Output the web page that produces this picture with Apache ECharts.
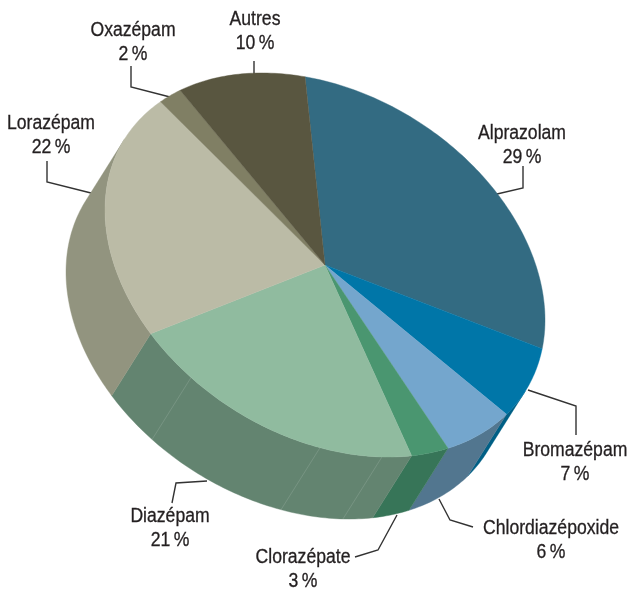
<!DOCTYPE html>
<html><head><meta charset="utf-8">
<style>html,body{margin:0;padding:0;background:#fff}#c{width:630px;height:592px}</style>
<script src="https://cdn.jsdelivr.net/npm/echarts@6/dist/echarts.min.js"></script>
</head><body><div id="c"></div>
<script>
// Data
const categories = ['Alprazolam','Bromazépam','Chlordiazépoxide','Clorazépate','Diazépam','Lorazépam','Oxazépam','Autres'];
const shares = [29,7,6,3,21,22,2,10];

// Styles
const topColors  = ['#336b82','#0076a8','#74a6cd','#4a9670','#90bb9f','#bbbba6','#807f64','#595640'];
const wallColors = ['#2a5a6e','#005f85','#52768f','#377558','#638470','#92947f','#6b6a52','#4a4834'];
const labelPos = [[522,121],[575,438],[551,516],[303,545],[170,504],[51,111],[133,18],[255,7]];
const leaders = [
  [[497,194],[523,188],[523,166]],
  [[528,390],[576,406],[576,435]],
  [[439,499],[450,520],[473,527]],
  [[397,515],[378,550],[355,557]],
  [[207,481],[176,483],[172,503]],
  [[91,193],[47,182],[47,161]],
  [[170,97],[131,87],[131,66]],
  [[254,74],[254,61]]
];
const wallSeamAngles = [75,91.3,127.5];
// Tilted pie geometry
const cx=325, cy=265, ax=220, bx=55, by=184, dx=-39, dy=62, startDeg=-95.2;
// Part of the rim whose side wall faces the viewer (tangents parallel to the extrusion)
const wallFrom=Math.atan2(-dx*by, dy*ax+(-dx)*bx)*180/Math.PI, wallTo=wallFrom+180;

function rim(deg, lower){
  const r=deg*Math.PI/180, c=Math.cos(r), s=Math.sin(r);
  return [cx+ax*c+(lower?dx:0), cy+bx*c+by*s+(lower?dy:0)];
}
function arc(a,b,lower){
  const pts=[], n=Math.max(2,Math.ceil(Math.abs(b-a)));
  for(let k=0;k<=n;k++) pts.push(rim(a+(b-a)*k/n,lower));
  return pts;
}
const total=shares.reduce((p,v)=>p+v,0);
function range(i){
  let sum=0; for(let k=0;k<i;k++) sum+=shares[k];
  return [startDeg+sum/total*360, startDeg+(sum+shares[i])/total*360];
}
const seriesData=shares.map((v,i)=>({name:categories[i],value:v}));

const chart=echarts.init(document.getElementById('c'),null,{renderer:'canvas'});
chart.setOption({
  animation:false,
  backgroundColor:'#fff',
  series:[
    { type:'custom',coordinateSystem:'none',z:1,silent:true,data:seriesData,
      renderItem(p,api){
        return {type:'polyline',shape:{points:leaders[p.dataIndex]},style:{stroke:'#333333',lineWidth:1.4,fill:null}};
      }},
    { type:'custom',coordinateSystem:'none',z:2,silent:true,data:seriesData,
      renderItem(p,api){
        const i=p.dataIndex, [a0,b0]=range(i);
        const a=Math.max(a0,wallFrom), b=Math.min(b0,wallTo);
        if(b<=a) return {type:'group',children:[]};
        const children=[{type:'polygon',shape:{points:arc(a,b,false).concat(arc(b,a,true))},
          style:{fill:wallColors[i],stroke:wallColors[i],lineWidth:0.4}}];
        wallSeamAngles.forEach(t=>{ if(t>=a&&t<b) children.push({type:'line',
          shape:{x1:rim(t)[0],y1:rim(t)[1],x2:rim(t,true)[0],y2:rim(t,true)[1]},
          style:{stroke:'rgba(255,255,255,0.18)',lineWidth:0.7}}); });
        return {type:'group',children};
      }},
    { type:'custom',coordinateSystem:'none',z:3,silent:true,data:seriesData,
      renderItem(p,api){
        const i=p.dataIndex, [a,b]=range(i);
        return {type:'polygon',shape:{points:[[cx,cy]].concat(arc(a,b,false))},
          style:{fill:topColors[i],stroke:topColors[i],lineWidth:0.4}};
      }},
    { type:'custom',coordinateSystem:'none',z:4,silent:true,data:seriesData,
      renderItem(p,api){
        const i=p.dataIndex;
        return {type:'text',x:labelPos[i][0],y:labelPos[i][1],scaleX:0.88,style:{text:categories[i]+'\n'+api.value(0)+'\u202f%',
          x:0,y:0,align:'center',verticalAlign:'top',
          fill:'#231f20',stroke:'#231f20',lineWidth:0.3,fontFamily:'"Liberation Sans",sans-serif',fontSize:20,lineHeight:24}};
      }}
  ]
});
</script></body></html>
